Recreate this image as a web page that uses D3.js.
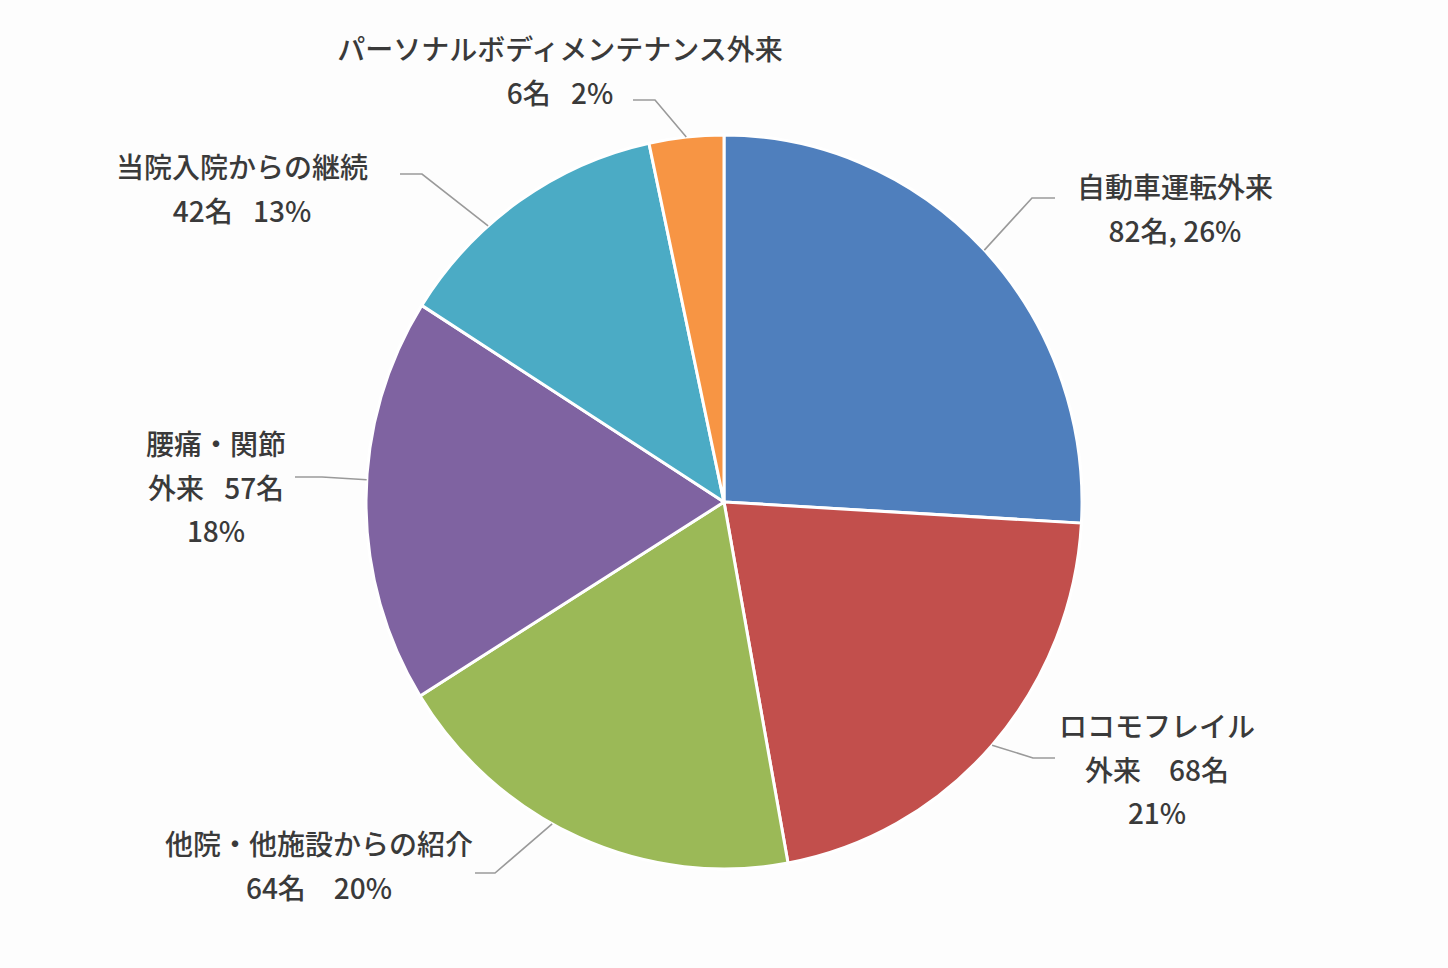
<!DOCTYPE html>
<html>
<head>
<meta charset="utf-8">
<script src="https://cdn.jsdelivr.net/npm/d3@7/dist/d3.min.js"></script>
<style>
  html, body { margin: 0; padding: 0; background: #fdfdfd; }
  svg { display: block; }
  .label { font-family: "Noto Sans CJK JP", "Noto Sans", sans-serif; font-size: 28px; font-weight: 500; fill: #3a3a3a; }
  .leader { fill: none; stroke: #9a9a9a; stroke-width: 1.6; }
</style>
</head>
<body>
<svg id="chart" width="1448" height="968"></svg>
<script>
(function(){
'use strict';

// categories, clockwise from 12 o'clock
var categories = ['自動車運転外来', 'ロコモフレイル外来', '他院・他施設からの紹介', '腰痛・関節外来', '当院入院からの継続', 'パーソナルボディメンテナンス外来'];
var counts = [82, 68, 64, 57, 42, 6];
var percents = [26, 21, 20, 18, 13, 2];
// slice sizes as drawn in the picture (degrees of arc); the small slice is drawn wider than its count
var sliceDegrees = [93.3, 76.4, 68.4, 64.3, 45.5, 12.1];
// label text lines, as written on the chart
var labelLines = [
    ['自動車運転外来', '82名, 26%'],
    ['ロコモフレイル', '外来　68名', '21%'],
    ['他院・他施設からの紹介', '64名　20%'],
    ['腰痛・関節', '外来\u2002 57名', '18%'],
    ['当院入院からの継続', '42名\u2002 13%'],
    ['パーソナルボディメンテナンス外来', '6名\u2002 2%']
];
var colors = ['#4f7fbd', '#c24f4c', '#9bb957', '#7f63a1', '#4babc5', '#f79544'];

// layout: label centre / first baseline, leader elbow and end, where on the slice the leader touches
var layout = [
    {x: 1175, y: 198, elbow: [1032, 198], end: [1055, 198], frac: 0.5},
    {x: 1157, y: 737, elbow: [1033, 758], end: [1055, 758], frac: 0.5},
    {x: 319,  y: 855, elbow: [495, 873],  end: [475, 873],  frac: 0.57},
    {x: 216,  y: 455, elbow: [322, 477],  end: [295, 477],  frac: 0.55},
    {x: 242,  y: 178, elbow: [422, 174],  end: [400, 174],  frac: 0.36},
    {x: 560,  y: 60,  elbow: [655, 100],  end: [633, 100],  frac: 0.5}
];
var lineHeight = 43.5;

var cx = 724, cy = 502, radius = 358, yStretch = 1.025;

var svg = d3.select('#chart');

var pie = d3.pie().sort(null).value(function(d) { return d; })
    .startAngle(0).endAngle(2 * Math.PI);
var arcs = pie(sliceDegrees);

var arc = d3.arc().innerRadius(0).outerRadius(radius);

var g = svg.append('g')
    .attr('transform', 'translate(' + cx + ',' + cy + ') scale(1,' + yStretch + ')');

g.selectAll('path.slice').data(arcs).enter().append('path')
    .attr('class', 'slice')
    .attr('d', arc)
    .attr('fill', function(d, i) { return colors[i]; })
    .attr('stroke', '#ffffff')
    .attr('stroke-width', 3)
    .attr('stroke-linejoin', 'round')
    .attr('vector-effect', 'non-scaling-stroke');

// leader lines, from the slice edge to the label
function edgePoint(d, frac) {
    var a = d.startAngle + (d.endAngle - d.startAngle) * frac;
    return [cx + radius * Math.sin(a), cy - radius * yStretch * Math.cos(a)];
}

svg.selectAll('polyline.leader').data(arcs).enter().append('polyline')
    .attr('class', 'leader')
    .attr('points', function(d, i) {
        var l = layout[i];
        return [edgePoint(d, l.frac), l.elbow, l.end].map(function(p) { return p.join(','); }).join(' ');
    });

// labels
var labels = svg.selectAll('text.label').data(categories).enter().append('text')
    .attr('class', 'label')
    .attr('text-anchor', 'middle')
    .attr('data-count', function(d, i) { return counts[i]; })
    .attr('data-percent', function(d, i) { return percents[i]; });

labels.each(function(d, i) {
    var t = d3.select(this);
    labelLines[i].forEach(function(line, k) {
        t.append('tspan')
            .attr('x', layout[i].x)
            .attr('y', layout[i].y + k * lineHeight)
            .attr('xml:space', 'preserve')
            .text(line);
    });
});

})();
</script>
</body>
</html>
